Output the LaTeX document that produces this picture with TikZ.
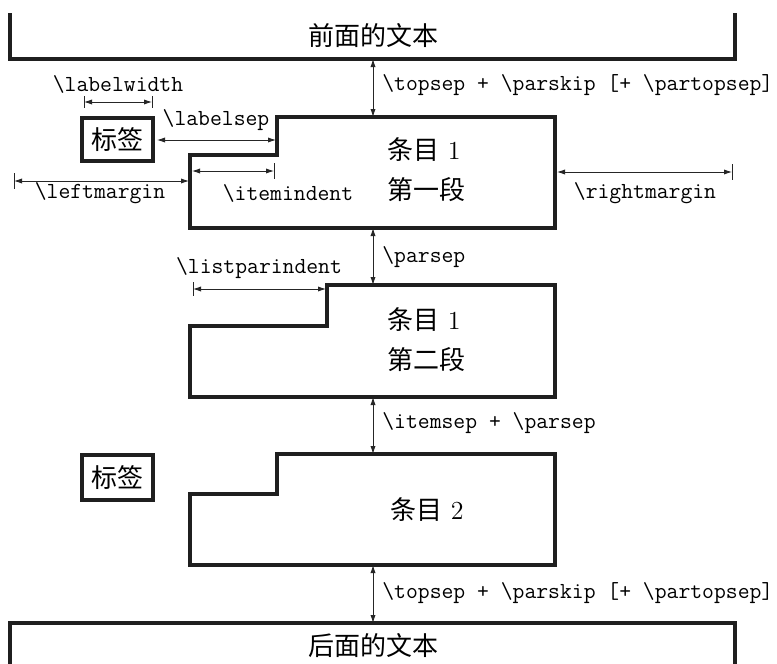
\documentclass[tikz,border=0pt]{standalone}
\usepackage{fontspec}
\newfontfamily\cjk{Noto Sans CJK SC}
\usetikzlibrary{arrows.meta}
\begin{document}
\begin{tikzpicture}[x=0.5pt,y=-0.5pt,
  boxline/.style={line width=1.6pt,draw=black!88,line join=miter},
  dim/.style={line width=0.45pt,draw=black!85,{Latex[length=4pt,width=2.6pt]}-{Latex[length=4pt,width=2.6pt]}},
  tick/.style={line width=0.45pt,draw=black!85},
  mono/.style={font=\fontsize{11.5}{13}\selectfont\ttfamily,inner sep=0pt},
  zh/.style={font=\fontsize{13}{16}\selectfont,inner sep=0pt}]
\useasboundingbox (0,0) rectangle (777,664);

% --- shapes ---
\draw[boxline] (10,13) -- (10,59) -- (735,59) -- (735,13);
\node[zh] (prev) at (373,36) {\cjk 前面的文本};

\draw[boxline] (277,117) -- (555,117) -- (555,228) -- (190,228) -- (190,155) -- (277,155) -- cycle;
\node[zh,anchor=west] (i1a) at (387,150) {{\cjk 条目} 1};
\node[zh,anchor=west] (i1b) at (387,190) {\cjk 第一段};

\node[zh,boxline,draw,minimum width=71*0.5pt,minimum height=43*0.5pt] (lab1) at (117.5,139.5) {\cjk 标签};

\draw[boxline] (327,285) -- (555,285) -- (555,397) -- (190,397) -- (190,326) -- (327,326) -- cycle;
\node[zh,anchor=west] (i2a) at (387,320) {{\cjk 条目} 1};
\node[zh,anchor=west] (i2b) at (387,360) {\cjk 第二段};

\draw[boxline] (277,454) -- (555,454) -- (555,565) -- (190,565) -- (190,494) -- (277,494) -- cycle;
\node[zh,anchor=west] (i3) at (390,510) {{\cjk 条目} 2};

\node[zh,boxline,draw,minimum width=71*0.5pt,minimum height=45*0.5pt] (lab2) at (117.5,477.5) {\cjk 标签};

\draw[boxline] (10,668) -- (10,623) -- (735,623) -- (735,668);
\node[zh] (next) at (373,646) {\cjk 后面的文本};

% --- coordinates ---
\coordinate (t1) at (373,59);   \coordinate (t2) at (373,117);
\coordinate (p1) at (373,228);  \coordinate (p2) at (373,285);
\coordinate (s1) at (373,397);  \coordinate (s2) at (373,454);
\coordinate (b1) at (373,565);  \coordinate (b2) at (373,623);
\coordinate (lw1) at (84,102);  \coordinate (lw2) at (152,102);
\coordinate (ls1) at (157,140); \coordinate (ls2) at (276,140);
\coordinate (lm1) at (14,181);  \coordinate (lm2) at (189,181);
\coordinate (ii1) at (192,171); \coordinate (ii2) at (274,171);
\coordinate (rm1) at (557,172); \coordinate (rm2) at (732,172);
\coordinate (lp1) at (193,289); \coordinate (lp2) at (326,289);

% --- dimension arrows ---
\draw[dim] (t1) -- (t2);
\draw[dim] (p1) -- (p2);
\draw[dim] (s1) -- (s2);
\draw[dim] (b1) -- (b2);
\draw[dim] (lw1) -- (lw2);
\draw[tick] (lw1) ++(0,-6) -- ++(0,12);
\draw[tick] (lw2) ++(0,-6) -- ++(0,12);
\draw[dim] (ls1) -- (ls2);
\draw[dim] (lm1) -- (lm2);
\draw[tick] (lm1) ++(0,-8) -- ++(0,16);
\draw[dim] (ii1) -- (ii2);
\draw[tick] (ii2) ++(0,-8) -- ++(0,16);
\draw[dim] (rm1) -- (rm2);
\draw[tick] (rm2) ++(0,-8) -- ++(0,16);
\draw[dim] (lp1) -- (lp2);
\draw[tick] (lp1) ++(0,-7) -- ++(0,14);

% --- labels ---
\node[mono,anchor=west] (ltop) at (382,85) {\textbackslash topsep + \textbackslash parskip [+ \textbackslash partopsep]};
\node[mono,anchor=west] (lpar) at (382,257) {\textbackslash parsep};
\node[mono,anchor=west] (lisep) at (382,423) {\textbackslash itemsep + \textbackslash parsep};
\node[mono,anchor=west] (lbot) at (382,593) {\textbackslash topsep + \textbackslash parskip [+ \textbackslash partopsep]};
\node[mono] (llw) at (118,84) {\textbackslash labelwidth};
\node[mono] (lls) at (216,120) {\textbackslash labelsep};
\node[mono] (llm) at (100,193) {\textbackslash leftmargin};
\node[mono] (lii) at (288,193) {\textbackslash itemindent};
\node[mono] (lrm) at (645,193) {\textbackslash rightmargin};
\node[mono] (llp) at (259,268) {\textbackslash listparindent};
\end{tikzpicture}
\end{document}
